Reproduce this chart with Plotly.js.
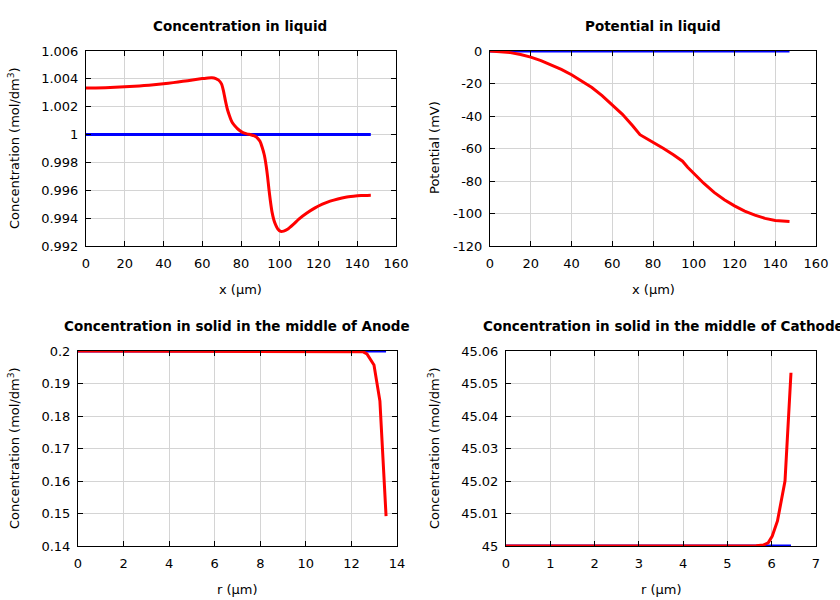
<!DOCTYPE html>
<html>
<head>
<meta charset="utf-8">
<script src="https://cdn.plot.ly/plotly-3.0.1.min.js"></script>
<style>html,body{margin:0;padding:0;background:#fff;}#chart{width:840px;height:600px;}</style>
</head>
<body>
<div id="chart"></div>
<script>
// Panel 1: Concentration in liquid
const liqX = [0, 5, 10, 15, 20, 25, 30, 35, 40, 45, 50, 55, 60, 63, 65, 67, 68.5, 70, 71, 72, 73, 74, 75, 76, 77, 78, 79.5, 81, 83, 85, 87, 88.5, 89.8, 91, 92, 93, 93.7, 94.4, 95.1, 96, 97, 98, 99, 100.5, 102, 104, 107, 110, 114, 118, 122, 126, 130, 134, 138, 142, 147];
const liqConc = [1.00335, 1.00335, 1.00336, 1.00339, 1.00343, 1.00347, 1.00352, 1.00358, 1.00365, 1.00373, 1.00382, 1.00392, 1.00402, 1.00407, 1.00408, 1.00402, 1.0039, 1.00362, 1.0031, 1.0024, 1.0018, 1.00137, 1.001, 1.00076, 1.0006, 1.00045, 1.00027, 1.00014, 1.00005, 0.99999, 0.9999, 0.99975, 0.99952, 0.99905, 0.99855, 0.99775, 0.9970, 0.9961, 0.9953, 0.99445, 0.99385, 0.99348, 0.99322, 0.99305, 0.99307, 0.9932, 0.99355, 0.99395, 0.99437, 0.99472, 0.995, 0.99522, 0.99538, 0.9955, 0.99557, 0.99562, 0.99565];
const liqXInit = [0, 147];
const liqConcInit = [1, 1];

// Panel 2: Potential in liquid
const potX = [0, 5, 10, 15, 20, 25, 30, 35, 40, 45, 50, 55, 60, 65, 70, 73.6, 77, 80, 85, 90, 94.5, 97, 100, 105, 110, 115, 120, 125, 130, 135, 140, 145, 147];
const potVal = [0, -0.3, -1.0, -2.2, -3.8, -5.9, -8.4, -11.3, -14.6, -18.3, -22.5, -27.5, -33, -39, -46, -51.5, -54, -56, -59.8, -63.8, -67.8, -71.5, -75.5, -81.5, -87, -91.5, -95.3, -98.5, -101, -103, -104.3, -104.9, -104.9];
const potInit = [0, 0];
const potTickVals = [0, -20, -40, -60, -80, -100, -120];
const potTickText = ["0", "-20", "-40", "-60", "-80", "-100", "-120"];

// Panel 3: Anode solid concentration
const anodeR = [0, 2, 4, 6, 8, 10, 12, 12.25, 12.5, 12.68, 12.99, 13.25, 13.52];
const anodeConc = [0.2, 0.2, 0.2, 0.2, 0.2, 0.2, 0.2, 0.19998, 0.1998, 0.1991, 0.1957, 0.1846, 0.1492];
const anodeInitR = [0, 13.52];
const anodeInit = [0.2, 0.2];

// Panel 4: Cathode solid concentration
const cathR = [0, 1, 2, 3, 4, 5, 5.4, 5.65, 5.81, 5.92, 6.01, 6.13, 6.3, 6.435];
const cathConc = [45, 45, 45, 45, 45, 45, 45.00002, 45.0001, 45.0003, 45.001, 45.003, 45.0077, 45.02, 45.0533];
const cathInitR = [0, 6.435];
const cathInit = [45, 45];

const titles = ["Concentration in liquid", "Potential in liquid", "Concentration in solid in the middle of Anode", "Concentration in solid in the middle of Cathode"];
const xTitles = ["x (\u00b5m)", "x (\u00b5m)", "r (\u00b5m)", "r (\u00b5m)"];
const yTitles = ["Concentration (mol/dm<sup>3</sup>)", "Potential (mV)", "Concentration (mol/dm<sup>3</sup>)", "Concentration (mol/dm<sup>3</sup>)"];

const RED = "#ff0000", BLUE = "#0000ff";
function ln(x, y, c, ax, shape) {
  return {x: x, y: y, mode: "lines", line: {color: c, width: 3, shape: shape || "linear", smoothing: 0.6}, xaxis: "x" + ax, yaxis: "y" + ax, showlegend: false, hoverinfo: "skip"};
}
const data = [
  ln(liqXInit, liqConcInit, BLUE, ""), ln(liqX, liqConc, RED, "", "spline"),
  ln(liqXInit, potInit, BLUE, "2"), ln(potX, potVal, RED, "2"),
  ln(anodeInitR, anodeInit, BLUE, "3"), ln(anodeR, anodeConc, RED, "3"),
  ln(cathInitR, cathInit, BLUE, "4"), ln(cathR, cathConc, RED, "4")
];

const W = 840, H = 600;
const boxes = [
  {l: 86, r: 396, t: 51, b: 246},
  {l: 490, r: 816, t: 51, b: 246},
  {l: 78, r: 397, t: 351, b: 546},
  {l: 506, r: 816, t: 351, b: 546}
];
const font = {family: "DejaVu Sans, sans-serif", size: 13, color: "#000"};
function axBase(extra) {
  return Object.assign({
    showline: true, linecolor: "#000", linewidth: 1, mirror: "ticks",
    ticks: "inside", ticklen: 5, tickcolor: "#000", tickwidth: 1,
    showgrid: true, gridcolor: "#d4d4d4", gridwidth: 1, zeroline: false,
    tickfont: font, fixedrange: true
  }, extra);
}
const xr = [[0, 160, 20], [0, 160, 20], [0, 14, 2], [0, 7, 1]];
const yr = [[0.992, 1.006, 0.002], [-120, 0, 20], [0.14, 0.2, 0.01], [45, 45.06, 0.01]];
const layout = {
  width: W, height: H, margin: {l: 0, r: 0, t: 0, b: 0},
  paper_bgcolor: "#fff", plot_bgcolor: "#fff", font: font, showlegend: false,
  annotations: []
};
const sfx = ["", "2", "3", "4"];
boxes.forEach((b, i) => {
  const xa = axBase({domain: [b.l / W, b.r / W], range: [xr[i][0], xr[i][1]], dtick: xr[i][2], tick0: 0, anchor: "y" + sfx[i], ticklabelstandoff: 5});
  const ya = axBase({domain: [1 - b.b / H, 1 - b.t / H], range: [yr[i][0], yr[i][1]], dtick: yr[i][2], tick0: yr[i][0], anchor: "x" + sfx[i], ticklabelstandoff: 4});
  if (i === 1) { ya.tickmode = "array"; ya.tickvals = potTickVals; ya.ticktext = potTickText; }
  layout["xaxis" + sfx[i]] = xa;
  layout["yaxis" + sfx[i]] = ya;
});
const titlePos = [
  {x: 240, y: 26, xa: "center"},
  {x: 653, y: 26, xa: "center"},
  {x: 237, y: 326, xa: "center"},
  {x: 481, y: 326, xa: "left"}
];
titlePos.forEach((p, i) => {
  layout.annotations.push({text: "<b>" + titles[i] + "</b>", xref: "paper", yref: "paper", x: p.x / W, y: 1 - p.y / H, xanchor: p.xa, yanchor: "middle", showarrow: false, font: {family: font.family, size: 13.5, color: "#000"}});
});
const xtPos = [{x: 241, y: 289}, {x: 653, y: 289}, {x: 237, y: 589}, {x: 661, y: 589}];
xtPos.forEach((p, i) => {
  layout.annotations.push({text: xTitles[i], xref: "paper", yref: "paper", x: p.x / W, y: 1 - p.y / H, xanchor: "center", yanchor: "middle", showarrow: false, font: font});
});
const ytPos = [{x: 14, y: 148}, {x: 434, y: 148}, {x: 14, y: 448}, {x: 434, y: 448}];
ytPos.forEach((p, i) => {
  layout.annotations.push({text: yTitles[i], xref: "paper", yref: "paper", x: p.x / W, y: 1 - p.y / H, xanchor: "center", yanchor: "middle", textangle: -90, showarrow: false, font: font});
});
Plotly.newPlot("chart", data, layout, {staticPlot: true, displayModeBar: false});
</script>
</body>
</html>
